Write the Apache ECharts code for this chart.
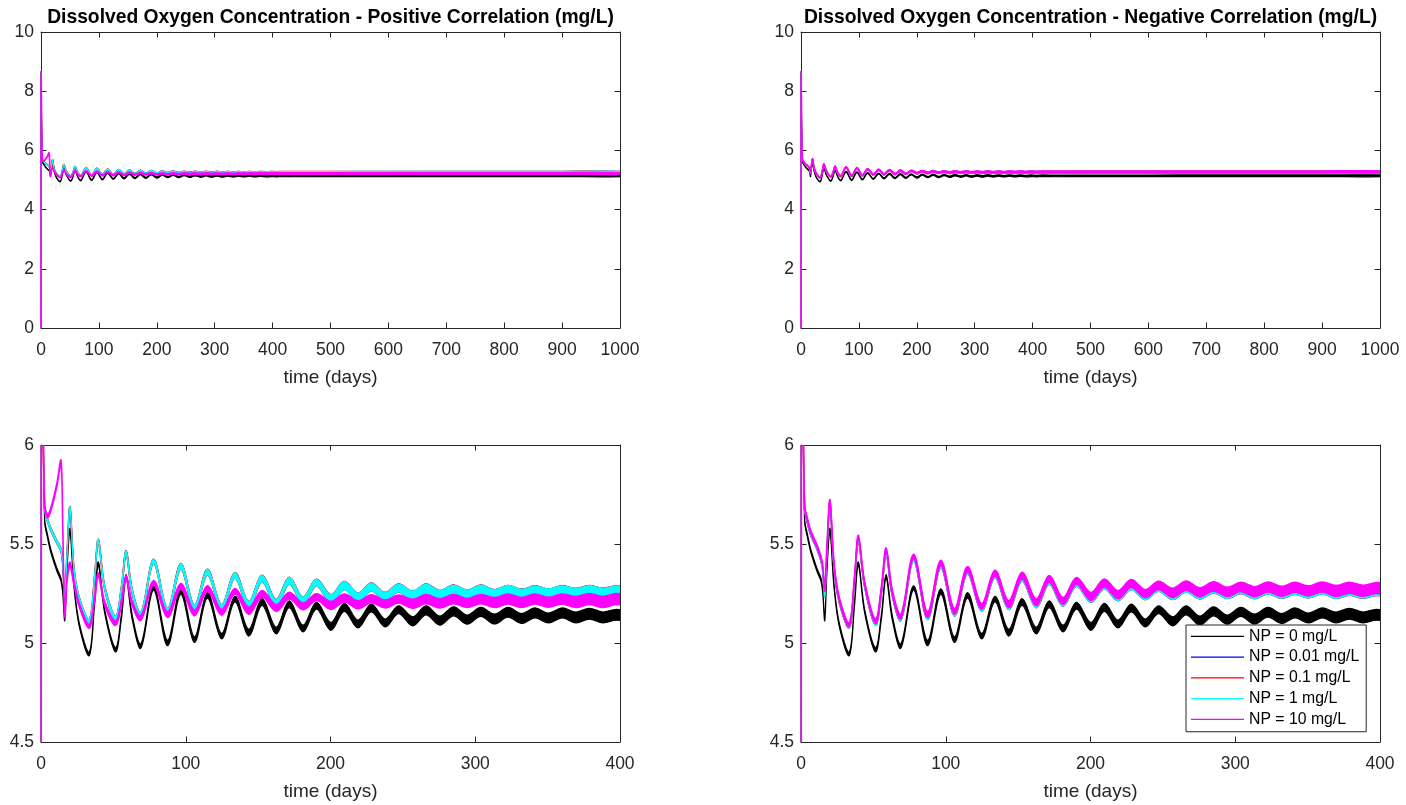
<!DOCTYPE html>
<html><head><meta charset="utf-8">
<script src="https://cdn.jsdelivr.net/npm/echarts@6/dist/echarts.min.js"></script>
<style>html,body{margin:0;padding:0;background:#fff}#c{width:1406px;height:805px}</style>
</head><body><div id="c"></div>
<script>
// ---- data (days, mg/L) ----
const time = [0, 0.35, 0.4, 0.8, 1.4, 2.5, 4.5, 7, 11, 13.8, 15, 16.4, 18, 20, 22.8, 26.5, 33.3, 37, 39.6, 44, 51.5, 55.5, 58.8, 63, 69, 77.8, 87.4, 96.6, 106, 115, 124.8, 134, 143.5, 152.7, 162.5, 171.5, 181, 190.3, 200.3, 209.5, 219, 228.2, 237.8, 247, 256.8, 266, 275.5, 285, 294.5, 303.8, 313.3, 322.6, 332, 341.2, 350.6, 360, 369.6, 378.8, 388.2, 397.5, 407, 416, 440, 500, 600, 700, 800, 900, 1000];
// thickness of the fast (daily) oscillation band
const bandWidth = [0.004, 0.004, 0.004, 0.006, 0.01, 0.015, 0.015, 0.015, 0.015, 0.015, 0.015, 0.015, 0.015, 0.018, 0.018, 0.018, 0.018, 0.018, 0.018, 0.018, 0.022, 0.022, 0.022, 0.022, 0.022, 0.022, 0.028, 0.028, 0.028, 0.028, 0.028, 0.028, 0.034, 0.034, 0.034, 0.034, 0.034, 0.034, 0.04, 0.04, 0.04, 0.04, 0.04, 0.04, 0.046, 0.046, 0.046, 0.046, 0.046, 0.046, 0.05, 0.05, 0.05, 0.05, 0.05, 0.05, 0.055, 0.055, 0.055, 0.055, 0.055, 0.055, 0.055, 0.055, 0.055, 0.055, 0.055, 0.055, 0.055];
// NP = 0 mg/L (same in both panels)
const np0 = [0, 8.65, 8.6, 7.1, 6.25, 5.62, 5.54, 5.46, 5.37, 5.32, 5.26, 5.12, 5.38, 5.57, 5.29, 5.09, 4.945, 5.2, 5.40, 5.16, 4.966, 5.13, 5.335, 5.13, 4.985, 5.278, 5.0, 5.26, 5.017, 5.24, 5.035, 5.222, 5.052, 5.207, 5.063, 5.196, 5.073, 5.188, 5.084, 5.18, 5.096, 5.177, 5.101, 5.168, 5.109, 5.165, 5.113, 5.16, 5.118, 5.157, 5.121, 5.155, 5.124, 5.152, 5.126, 5.152, 5.129, 5.148, 5.129, 5.143, 5.132, 5.143, 5.138, 5.14, 5.142, 5.143, 5.143, 5.143, 5.143];
// Positive correlation: NP = 0.01 / 0.1 / 1 mg/L (overlapping)
const posNP1 = [0, 8.65, 8.6, 7.15, 6.3, 5.68, 5.62, 5.57, 5.51, 5.47, 5.40, 5.24, 5.45, 5.68, 5.37, 5.22, 5.11, 5.33, 5.515, 5.28, 5.125, 5.27, 5.455, 5.26, 5.143, 5.412, 5.16, 5.387, 5.177, 5.358, 5.18, 5.342, 5.193, 5.325, 5.203, 5.315, 5.215, 5.305, 5.224, 5.29, 5.232, 5.283, 5.235, 5.278, 5.239, 5.275, 5.242, 5.27, 5.244, 5.27, 5.244, 5.266, 5.246, 5.264, 5.248, 5.264, 5.248, 5.263, 5.249, 5.261, 5.252, 5.26, 5.257, 5.26, 5.262, 5.263, 5.263, 5.263, 5.263];
// Positive correlation: NP = 10 mg/L
const posNP10 = [0, 8.65, 8.6, 7.2, 6.3, 5.7, 5.64, 5.68, 5.8, 5.915, 5.6, 5.14, 5.32, 5.40, 5.30, 5.19, 5.084, 5.22, 5.345, 5.2, 5.1, 5.2, 5.33, 5.2, 5.126, 5.303, 5.143, 5.286, 5.152, 5.275, 5.155, 5.261, 5.163, 5.248, 5.177, 5.239, 5.185, 5.232, 5.19, 5.227, 5.193, 5.224, 5.197, 5.222, 5.198, 5.222, 5.2, 5.222, 5.202, 5.222, 5.204, 5.222, 5.205, 5.222, 5.206, 5.222, 5.207, 5.222, 5.207, 5.222, 5.212, 5.218, 5.216, 5.218, 5.218, 5.218, 5.218, 5.218, 5.218];
// Negative correlation: NP = 0.01 / 0.1 / 1 mg/L (overlapping)
const negNP1 = [0, 8.65, 8.6, 7.15, 6.3, 5.68, 5.61, 5.545, 5.48, 5.42, 5.37, 5.24, 5.47, 5.70, 5.385, 5.21, 5.085, 5.32, 5.52, 5.29, 5.1, 5.26, 5.455, 5.25, 5.125, 5.425, 5.133, 5.393, 5.15, 5.362, 5.175, 5.343, 5.186, 5.33, 5.195, 5.314, 5.203, 5.304, 5.226, 5.293, 5.234, 5.29, 5.239, 5.281, 5.243, 5.28, 5.246, 5.276, 5.248, 5.273, 5.249, 5.273, 5.251, 5.271, 5.253, 5.273, 5.253, 5.269, 5.254, 5.268, 5.258, 5.265, 5.263, 5.265, 5.265, 5.265, 5.265, 5.265, 5.265];
// Negative correlation: NP = 10 mg/L
const negNP10 = [0, 8.65, 8.6, 7.2, 6.35, 5.69, 5.62, 5.555, 5.49, 5.43, 5.39, 5.27, 5.5, 5.715, 5.40, 5.22, 5.092, 5.33, 5.535, 5.3, 5.11, 5.27, 5.47, 5.26, 5.134, 5.437, 5.143, 5.404, 5.16, 5.372, 5.185, 5.353, 5.196, 5.34, 5.205, 5.324, 5.212, 5.314, 5.235, 5.303, 5.244, 5.3, 5.249, 5.291, 5.253, 5.29, 5.256, 5.286, 5.258, 5.283, 5.259, 5.283, 5.261, 5.281, 5.263, 5.283, 5.263, 5.279, 5.264, 5.278, 5.268, 5.275, 5.273, 5.275, 5.275, 5.275, 5.275, 5.275, 5.275];

const names = ['NP = 0 mg/L', 'NP = 0.01 mg/L', 'NP = 0.1 mg/L', 'NP = 1 mg/L', 'NP = 10 mg/L'];
const colors = ['#000000', '#0000ff', '#ff0000', '#00ffff', '#ff00ff'];
const titles = ['Dissolved Oxygen Concentration - Positive Correlation (mg/L)', 'Dissolved Oxygen Concentration - Negative Correlation (mg/L)'];
const xName = 'time (days)';
const xRangeTop = [0, 1000, 100];
const xRangeBottom = [0, 400, 100];
const yRangeTop = [0, 10, 2];
const yRangeBottom = [4.5, 6, 0.5];

const posCurves = [np0, posNP1, posNP1, posNP1, posNP10];
const negCurves = [np0, negNP1, negNP1, negNP1, negNP10];

// ---- layout / style ----
const FONT = '"Liberation Sans", Arial, Helvetica, sans-serif';
const AX = '#262626';
const edgeWidths = [1.2, 1, 1.5, 1.2, 1.6];
const grids = [
  {left: 41, top: 32, width: 579, height: 296, xr: xRangeTop, yr: yRangeTop, curves: posCurves},
  {left: 801, top: 32, width: 579, height: 296, xr: xRangeTop, yr: yRangeTop, curves: negCurves},
  {left: 41, top: 445, width: 579, height: 297, xr: xRangeBottom, yr: yRangeBottom, curves: posCurves},
  {left: 801, top: 445, width: 579, height: 297, xr: xRangeBottom, yr: yRangeBottom, curves: negCurves}
];
const SM = 0.35;

function bandRenderer(vals, color, edge) {
  return function (params, api) {
    if (params.dataIndex !== 0) return null;
    const up = [], lo = [];
    for (let i = 0; i < time.length; i++) {
      up.push(api.coord([time[i], vals[i] + bandWidth[i] / 2]));
      lo.push(api.coord([time[i], vals[i] - bandWidth[i] / 2]));
    }
    const pts = up.concat(lo.reverse());
    const cs = params.coordSys;
    return {type: 'polygon', shape: {points: pts, smooth: SM},
      clipPath: {type: 'rect', shape: {x: cs.x - 1.2, y: cs.y, width: cs.width + 1.2, height: cs.height}},
      style: {fill: color, stroke: color, lineWidth: edge, lineJoin: 'round'}, silent: true};
  };
}

const option = {animation: false, backgroundColor: '#fff', grid: [], xAxis: [], yAxis: [], series: []};
grids.forEach((g, gi) => {
  option.grid.push({left: g.left, top: g.top, width: g.width, height: g.height, containLabel: false});
  const common = {axisLine: {onZero: false, lineStyle: {color: AX, width: 1}}, axisTick: {inside: true, length: 5.5, lineStyle: {color: AX, width: 1}}, splitLine: {show: false}};
  option.xAxis.push(Object.assign({type: 'value', gridIndex: gi, position: 'bottom', min: g.xr[0], max: g.xr[1], interval: g.xr[2],
    name: xName, nameLocation: 'middle', nameGap: 40, nameTextStyle: {color: AX, fontSize: 19, fontFamily: FONT},
    axisLabel: {color: AX, fontSize: 17.5, fontFamily: FONT, margin: 13, formatter: v => String(v)}}, common));
  option.xAxis.push(Object.assign({type: 'value', gridIndex: gi, position: 'top', min: g.xr[0], max: g.xr[1], interval: g.xr[2], axisLabel: {show: false}}, common));
  option.yAxis.push(Object.assign({type: 'value', gridIndex: gi, position: 'left', min: g.yr[0], max: g.yr[1], interval: g.yr[2],
    axisLabel: {color: AX, fontSize: 17.5, fontFamily: FONT, margin: 7, formatter: v => String(v)}}, common));
  option.yAxis.push(Object.assign({type: 'value', gridIndex: gi, position: 'right', min: g.yr[0], max: g.yr[1], interval: g.yr[2], axisLabel: {show: false}}, common));
  g.curves.forEach((vals, ci) => {
    const color = colors[ci];
    option.series.push({
      type: 'custom', name: names[ci], xAxisIndex: gi * 2, yAxisIndex: gi * 2, clip: false, silent: true, z: 3,
      itemStyle: {color: color},
      encode: {x: 0, y: [1, 2]},
      data: time.map((t, i) => [t, vals[i] - bandWidth[i] / 2, vals[i] + bandWidth[i] / 2]),
      renderItem: bandRenderer(vals, color, edgeWidths[ci])
    });
  });
});
option.legend = {
  orient: 'vertical', left: 1186, top: 625, padding: [1, 7, 2, 5], itemGap: 0, z: 10,
  backgroundColor: '#fff', borderColor: AX, borderWidth: 1, borderRadius: 0,
  itemWidth: 53, itemHeight: 1.3,
  data: names.map(n => ({name: n, icon: 'rect'})),
  textStyle: {color: '#000', fontSize: 15.8, fontFamily: FONT, lineHeight: 20.75}
};
option.graphic = titles.map((t, i) => ({type: 'text', x: grids[i].left + grids[i].width / 2, y: 17.5,
  style: {text: t, align: 'center', verticalAlign: 'middle', textAlign: 'center', textVerticalAlign: 'middle',
    fontSize: 19.3, fontWeight: 'bold', fontFamily: FONT, fill: '#000'}}));
const chart = echarts.init(document.getElementById('c'), null, {renderer: 'canvas'});
chart.setOption(option);
</script></body></html>
